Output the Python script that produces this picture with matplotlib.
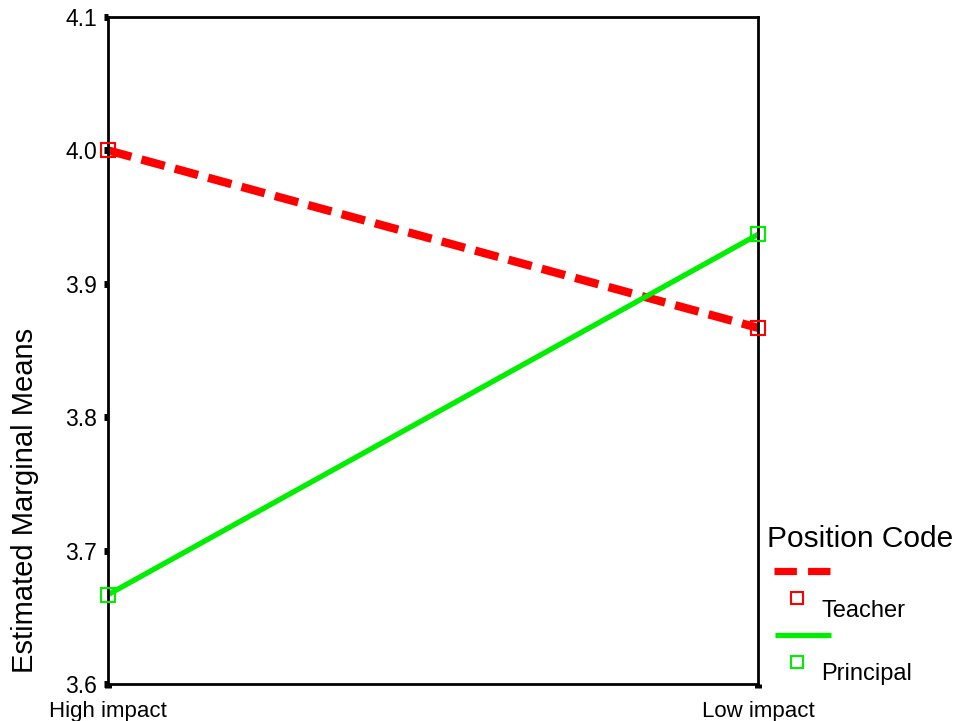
import matplotlib.pyplot as plt
from matplotlib.lines import Line2D

plt.rcParams['font.family'] = ['Liberation Sans', 'DejaVu Sans']

# data
categories = ['High impact', 'Low impact']
teacher = [4.000, 3.867]
principal = [3.667, 3.937]
yticks = [3.6, 3.7, 3.8, 3.9, 4.0, 4.1]

fig = plt.figure(figsize=(9.57, 7.21), dpi=100)
ax = fig.add_axes([0.1129, 0.0513, 0.6792, 0.9251])

x = list(range(len(categories)))
ax.plot(x, teacher, color='#ff0000', lw=6, ls=(0, (2.9, 1.25)),
        dash_capstyle='butt', zorder=2)
ax.plot(x, principal, color='#00ee00', lw=3.8, zorder=2)
ax.plot(x, teacher, ls='none', marker='s', ms=10, mfc='none', mec='#ff0000', mew=1.5,
        zorder=3, clip_on=False)
ax.plot(x, principal, ls='none', marker='s', ms=10, mfc='none', mec='#00ee00', mew=1.5,
        zorder=3, clip_on=False)

ax.set_xlim(0, 1)
ax.set_ylim(3.6, 4.1)
ax.set_xticks(x)
ax.set_xticklabels(categories, fontsize=16)
ax.set_yticks(yticks)
ax.set_yticklabels([f'{v:.1f}' for v in yticks], fontsize=16.5)
ax.tick_params(axis='both', direction='out', length=3, width=5, color='black')
ax.tick_params(axis='x', pad=9)
ax.tick_params(axis='y', pad=5)
for s in ax.spines.values():
    s.set_linewidth(2)

# legend and y title drawn by hand, in figure pixels
W, H = 957, 721
def fx(px):
    return px / W
def fy(py):
    return 1 - py / H

fig.text(fx(25), fy(500), 'Estimated Marginal Means', fontsize=21, rotation=90,
         va='center', ha='center')

fig.text(fx(767), fy(539), 'Position Code', fontsize=21.5, va='center', ha='left')
fig.add_artist(Line2D([fx(774), fx(832)], [fy(571), fy(571)], color='#ff0000', lw=5.2,
                      ls=(0, (3.1, 1.55)), dash_capstyle='butt'))
fig.add_artist(Line2D([fx(797)], [fy(598)], marker='s', ms=9, mfc='none', mec='#ff0000', mew=1.5))
fig.text(fx(821), fy(611), 'Teacher', fontsize=17, va='center', ha='left')
fig.add_artist(Line2D([fx(775), fx(831)], [fy(635), fy(635)], color='#00ee00', lw=3.8,
                      solid_capstyle='butt'))
fig.add_artist(Line2D([fx(797)], [fy(662)], marker='s', ms=9, mfc='none', mec='#00ee00', mew=1.5))
fig.text(fx(821), fy(674), 'Principal', fontsize=17, va='center', ha='left')

fig.savefig('out.png', dpi=100)
